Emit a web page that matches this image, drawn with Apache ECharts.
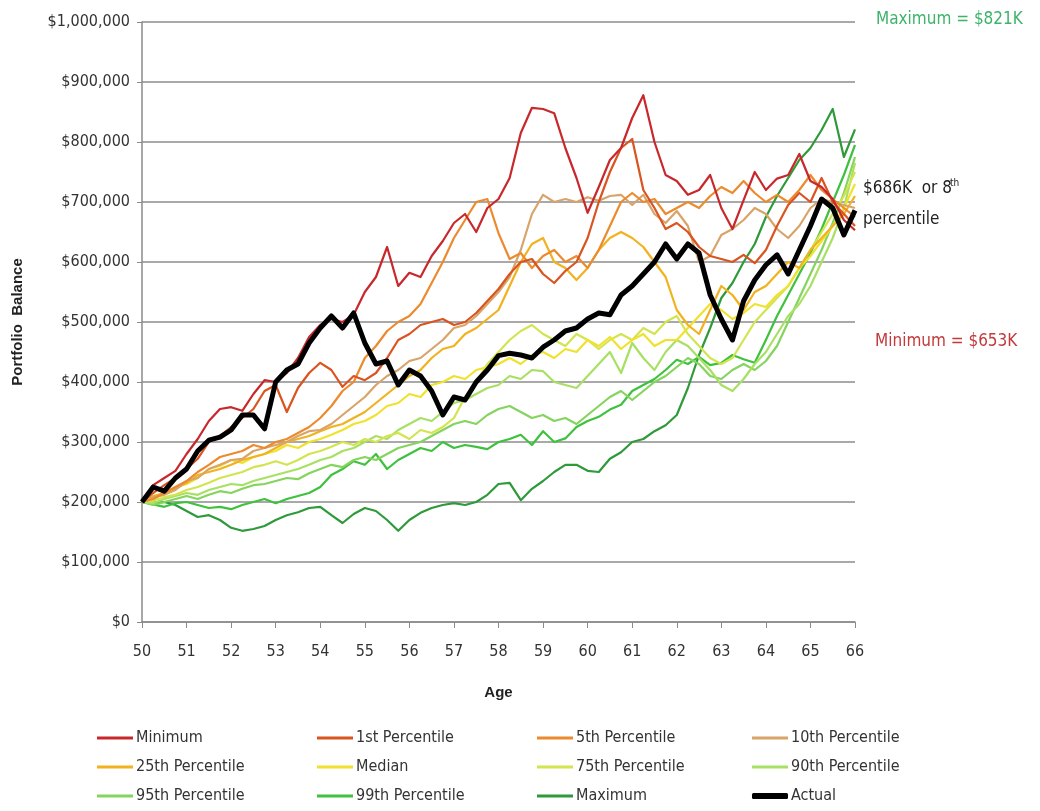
<!DOCTYPE html>
<html><head><meta charset="utf-8">
<script src="https://cdn.jsdelivr.net/npm/echarts@6/dist/echarts.min.js"></script>
<style>html,body{margin:0;padding:0;background:#fff}#chart{width:1040px;height:811px}</style>
</head><body><div id="chart"></div>
<script>
// Age (quarter-year samples)
const ages = [50,50.25,50.5,50.75,51,51.25,51.5,51.75,52,52.25,52.5,52.75,53,53.25,53.5,53.75,54,
  54.25,54.5,54.75,55,55.25,55.5,55.75,56,56.25,56.5,56.75,57,57.25,57.5,57.75,58,
  58.25,58.5,58.75,59,59.25,59.5,59.75,60,60.25,60.5,60.75,61,61.25,61.5,61.75,62,
  62.25,62.5,62.75,63,63.25,63.5,63.75,64,64.25,64.5,64.75,65,65.25,65.5,65.75,66];
// Portfolio balance in $ thousands
const minimum = [200,228,240,252,280,305,335,355,358,352,380,403,400,415,440,475,495,
  505,500,512,550,575,625,560,582,575,610,635,665,680,650,690,705,
  740,815,857,855,848,790,740,682,725,770,790,840,878,800,745,735,
  712,720,745,690,655,703,750,720,739,745,780,735,725,705,670,653];
const p1 = [200,215,228,240,255,272,300,310,325,340,355,385,395,350,390,415,432,
  420,392,410,403,415,440,470,480,495,500,505,495,500,515,535,555,
  580,600,605,580,565,585,600,640,700,750,790,805,720,690,655,665,
  650,625,610,605,600,612,598,620,660,695,715,700,740,700,680,660];
const p5 = [200,205,215,225,235,250,262,275,280,285,295,290,300,305,315,325,340,
  360,385,400,440,460,485,500,510,530,565,600,640,670,700,705,648,
  605,615,590,610,620,600,610,590,620,660,700,715,700,705,680,690,
  700,690,710,725,715,735,715,700,712,700,720,745,720,705,690,675];
const p10 = [200,208,212,220,235,240,255,262,270,272,285,290,295,300,310,318,320,
  330,345,360,375,395,410,420,435,440,455,470,490,495,510,530,550,
  575,620,680,712,700,705,700,708,702,710,712,695,712,680,665,685,
  660,600,610,645,655,670,690,680,655,640,660,690,705,700,695,690];
const p25 = [200,210,215,222,232,245,250,255,262,270,275,280,290,300,305,310,318,
  325,330,340,350,365,380,395,410,420,440,455,460,480,490,505,520,
  560,600,630,640,600,590,570,590,620,640,650,640,625,600,575,520,
  495,480,520,560,545,520,550,560,580,600,590,620,640,660,680,710];
const median = [200,205,215,225,230,240,255,260,270,265,275,280,285,295,290,300,305,
  312,320,330,335,345,360,365,380,375,395,400,410,405,420,425,430,
  440,430,445,450,440,455,450,470,460,475,455,470,480,460,470,470,
  490,510,530,520,505,515,530,525,545,560,590,610,635,660,690,730];
const p75 = [200,202,208,212,220,225,232,240,245,250,258,262,268,262,270,280,285,
  292,300,295,305,300,310,315,305,320,315,325,340,375,400,430,450,
  470,485,495,480,470,460,480,470,455,470,480,470,490,480,500,510,
  480,460,440,430,440,470,500,520,540,560,590,620,650,680,710,750];
const p90 = [200,198,205,210,215,212,220,225,230,228,235,240,245,250,255,262,270,
  275,285,290,300,310,305,320,330,340,335,350,365,370,380,390,395,
  410,405,420,418,400,395,390,410,430,450,415,465,440,420,450,470,
  460,440,420,395,385,405,430,450,480,510,530,560,600,640,690,765];
const p95 = [200,195,200,205,210,205,212,218,215,222,228,230,235,240,238,248,255,
  262,258,270,275,270,280,290,295,300,310,320,330,335,330,345,355,
  360,350,340,345,335,340,330,345,360,375,385,370,385,400,410,425,
  440,430,410,405,420,430,420,435,460,500,540,580,620,665,715,775];
const p99 = [200,196,192,198,200,195,190,192,188,195,200,205,198,205,210,215,225,
  245,255,268,262,280,255,270,280,290,285,300,290,295,292,288,300,
  305,312,295,318,300,306,325,335,342,354,362,385,395,405,420,437,
  430,442,428,432,445,438,432,470,510,545,580,615,655,700,745,795];
const maximum = [200,198,200,195,185,175,178,170,157,152,155,160,170,178,183,190,192,
  178,165,180,190,185,170,152,170,182,190,195,198,195,200,212,230,
  232,203,222,235,250,262,262,252,250,272,283,300,305,318,328,345,
  390,445,490,540,565,600,630,675,710,740,770,790,820,855,775,821];
const actual = [200,225,218,240,255,285,303,308,320,345,345,322,400,420,430,465,490,
  510,490,515,465,430,435,395,420,410,385,345,375,370,400,420,444,
  448,445,440,458,470,485,490,505,515,512,545,560,580,600,630,605,
  630,615,545,505,470,535,570,595,612,580,620,660,705,690,645,686];

const yTicks = [0,100,200,300,400,500,600,700,800,900,1000];

const NARROW = '"Liberation Sans Narrow","Arial Narrow","DejaVu Sans Condensed","Liberation Sans",sans-serif';
const BOLD = '"Liberation Sans",Arial,sans-serif';

const defs = [
  {name:'Maximum', data:maximum, color:'#2F9A3A', w:2.2},
  {name:'99th Percentile', data:p99, color:'#3EC23E', w:2.2},
  {name:'95th Percentile', data:p95, color:'#84D45E', w:2.2},
  {name:'90th Percentile', data:p90, color:'#A8E064', w:2.2},
  {name:'75th Percentile', data:p75, color:'#D2E44E', w:2.2},
  {name:'Median', data:median, color:'#F0E22C', w:2.2},
  {name:'25th Percentile', data:p25, color:'#F2B21E', w:2.2},
  {name:'10th Percentile', data:p10, color:'#D8A46A', w:2.2},
  {name:'5th Percentile', data:p5, color:'#EC8A2E', w:2.2},
  {name:'1st Percentile', data:p1, color:'#DA5420', w:2.2},
  {name:'Minimum', data:minimum, color:'#C8282B', w:2.2},
  {name:'Actual', data:actual, color:'#000000', w:5}
];

const series = defs.map(d => ({
  name: d.name, type: 'line', symbol: 'none', smooth: false,
  data: ages.map((a, i) => [a, d.data[i]]),
  lineStyle: {color: d.color, width: d.w, join: 'round'},
  itemStyle: {color: d.color},
  emphasis: {disabled: true}, animation: false
}));

const legendLayout = [
  ['Minimum', 97, 737], ['1st Percentile', 317, 737], ['5th Percentile', 537, 737], ['10th Percentile', 752, 737],
  ['25th Percentile', 97, 766], ['Median', 317, 766], ['75th Percentile', 537, 766], ['90th Percentile', 752, 766],
  ['95th Percentile', 97, 795], ['99th Percentile', 317, 795], ['Maximum', 537, 795], ['Actual', 752, 795]
];
const legends = legendLayout.map(([n, x, y]) => ({
  data: [{name: n, icon: n === 'Actual' ? 'roundRect' : 'rect'}],
  left: x, top: y - 7, itemWidth: 36, itemHeight: n === 'Actual' ? 6 : 3, itemGap: 0,
  padding: 0, selectedMode: false,
  textStyle: {fontFamily: NARROW, fontSize: 16, color: '#333', padding: [0,0,0,-2]}
}));

const chart = echarts.init(document.getElementById('chart'), null, {renderer: 'canvas'});
chart.setOption({
  animation: false,
  backgroundColor: '#fff',
  grid: {left: 142, right: 185, top: 22, bottom: 189, containLabel: false, outerBoundsMode: 'none'},
  xAxis: {
    type: 'value', min: 50, max: 66, interval: 1,
    name: 'Age', nameLocation: 'middle', nameGap: 63,
    nameTextStyle: {fontFamily: BOLD, fontWeight: 'bold', fontSize: 15, color: '#222'},
    axisLine: {show: true, lineStyle: {color: '#8a8a8a', width: 1.5}},
    axisTick: {show: true, length: 6, lineStyle: {color: '#8a8a8a'}},
    axisLabel: {fontFamily: NARROW, fontSize: 16, color: '#333', margin: 22},
    splitLine: {show: false}
  },
  yAxis: {
    type: 'value', min: yTicks[0], max: yTicks[yTicks.length-1], interval: 100,
    name: 'Portfolio  Balance', nameLocation: 'middle', nameGap: 117, nameRotate: 90,
    nameTextStyle: {fontFamily: BOLD, fontWeight: 'bold', fontSize: 15, color: '#222'},
    axisLine: {show: true, lineStyle: {color: '#8a8a8a', width: 1.5}},
    axisTick: {show: true, length: 5, lineStyle: {color: '#8a8a8a'}},
    axisLabel: {fontFamily: NARROW, fontSize: 16, color: '#333', margin: 12,
      formatter: v => '$' + (v * 1000).toLocaleString('en-US')},
    splitLine: {show: true, lineStyle: {color: '#8c8c8c', width: 1.5}}
  },
  legend: legends,
  series: series,
  graphic: [
    {type: 'text', left: 876, top: 11, style: {text: 'Maximum = $821K', fill: '#3DB46A', font: '17px ' + NARROW}},
    {type: 'text', left: 863, top: 180, style: {text: '$686K  or 8', fill: '#222', font: '17px ' + NARROW}},
    {type: 'text', left: 950, top: 178, style: {text: 'th', fill: '#222', font: '10px ' + NARROW}},
    {type: 'text', left: 863, top: 211, style: {text: 'percentile', fill: '#222', font: '17px ' + NARROW}},
    {type: 'text', left: 875, top: 333, style: {text: 'Minimum = $653K', fill: '#C23A3C', font: '17px ' + NARROW}}
  ]
});
</script>
</body></html>
